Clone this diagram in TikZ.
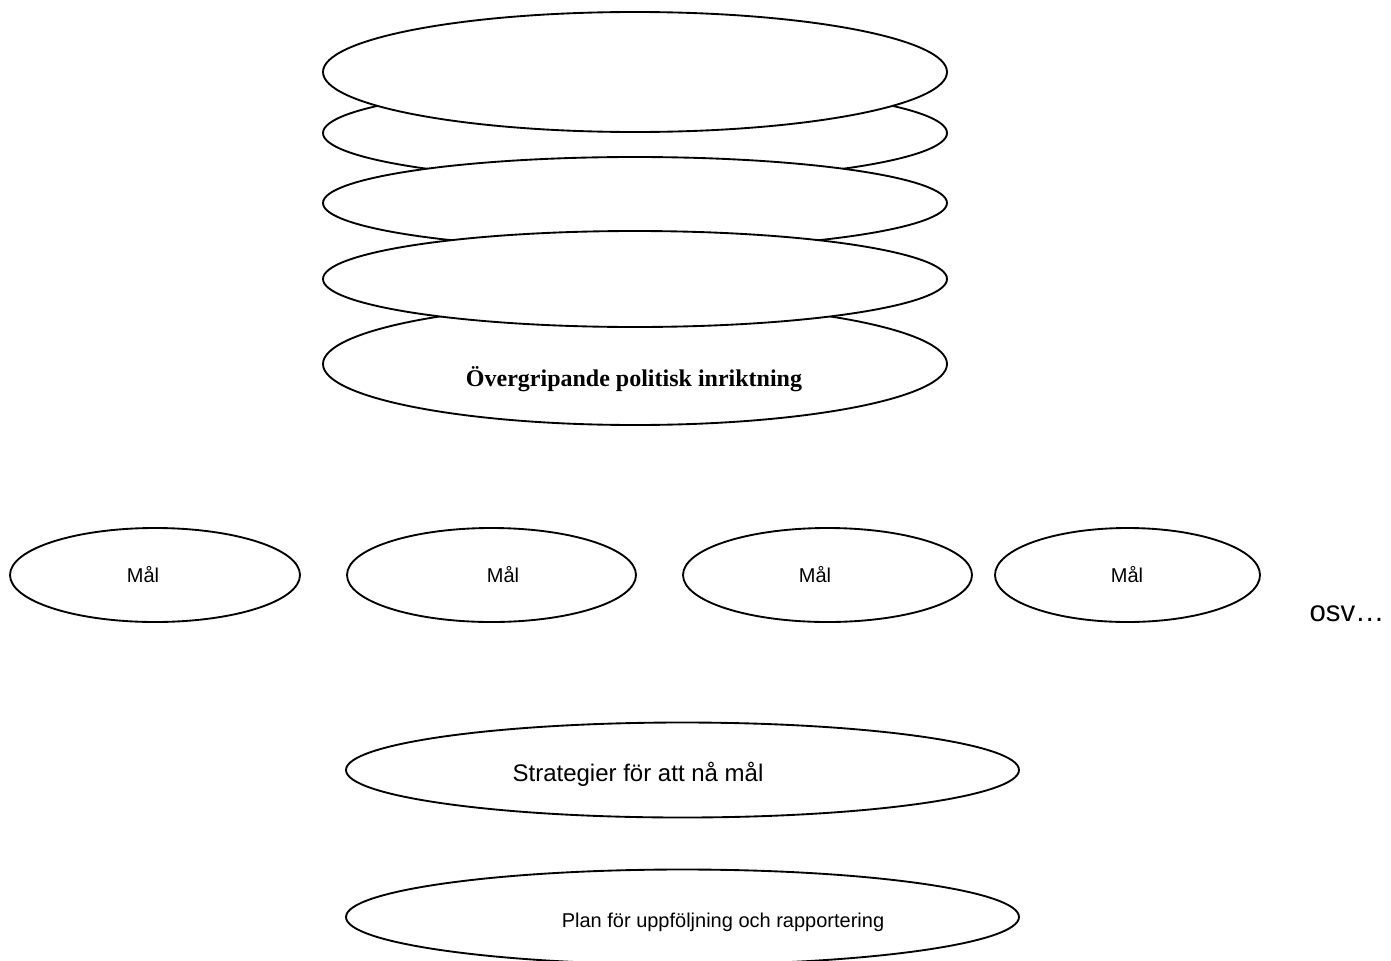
\documentclass[tikz,border=0pt]{standalone}
\usepackage{fontspec}
\setmainfont{Liberation Sans}
\newfontfamily\titlefont{Liberation Serif}
\usetikzlibrary{shapes.geometric}
\tikzset{
    oval/.style={draw,ellipse,fill=white,line width=1.4pt,inner sep=0pt},
    ovaltext/.style={anchor=base,inner sep=0pt,font=\fontsize{15}{18}\selectfont}
}
\begin{document}
\begin{tikzpicture}[x=0.75pt,y=-0.75pt]
\useasboundingbox (0,0) rectangle (1391,960);

\foreach \v/\u/\h in
{stackE/364/91.5,
    stackB/133/72,
    stackC/203/69,
    stackD/279/72,
    stackA/72/90}
{
    \node[oval,minimum width=468pt,minimum height=\h pt] (\v) at (635,\u){};
};
\node[anchor=base,inner sep=0pt,font=\titlefont\bfseries\fontsize{18}{21}\selectfont] (titel) at (634,386) {Övergripande politisk inriktning};

\foreach \v/\u/\w/\t in
{malA/155/217.5/143,
    malB/491.5/216.75/503,
    malC/827.5/216.75/815,
    malD/1127.5/198.75/1127}
{
    \node[oval,minimum width=\w pt,minimum height=70.5pt] (\v) at (\u,575){};
    \node[ovaltext] (\v-text) at (\t,582) {Mål};
};
\node[anchor=base,inner sep=0pt,font=\fontsize{22}{25}\selectfont] (osv) at (1347,621) {osv…};

\node[oval,minimum width=504.75pt,minimum height=71.25pt] (strategi) at (682.5,770){};
\node[ovaltext,font=\fontsize{18}{21}\selectfont] (strategi-text) at (638,781) {Strategier för att nå mål};

\node[oval,minimum width=504.75pt,minimum height=71.25pt] (plan) at (682.5,917){};
\node[ovaltext] (plan-text) at (723,927) {Plan för uppföljning och rapportering};

\end{tikzpicture}
\end{document}
